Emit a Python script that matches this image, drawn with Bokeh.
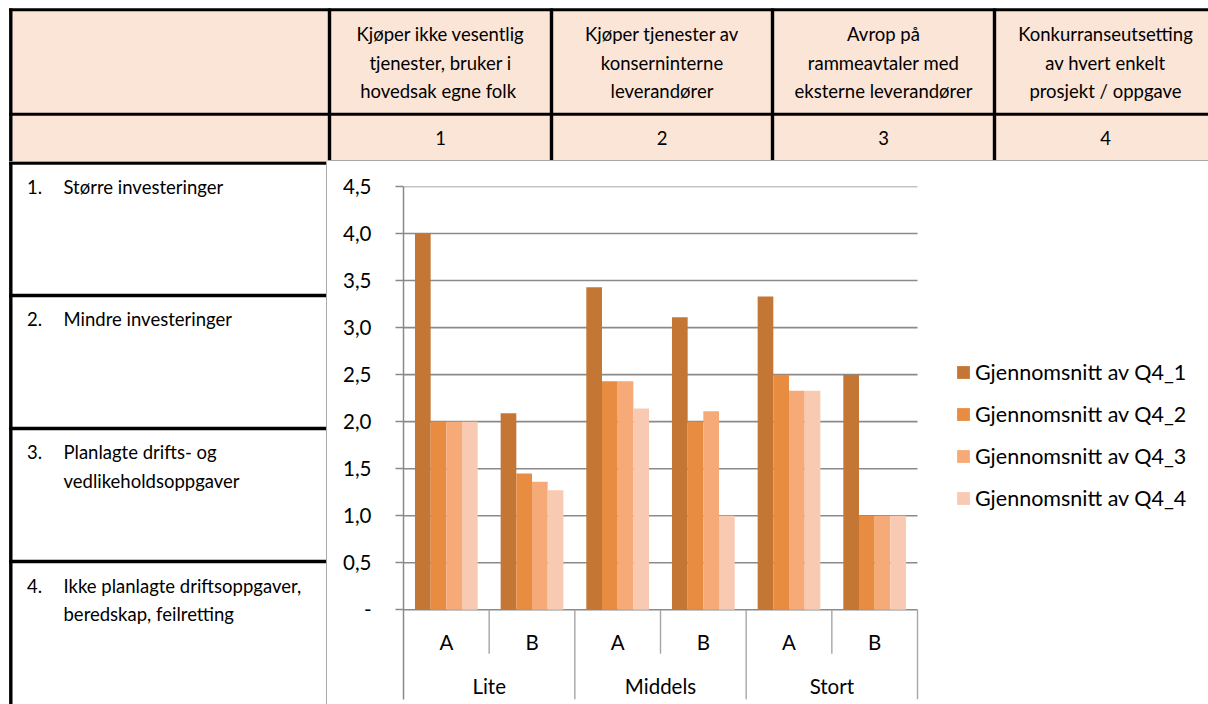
from bokeh.plotting import figure
from bokeh.models import ColumnDataSource, Range1d, FixedTicker, Legend, LegendItem
from bokeh.transform import dodge
from bokeh.layouts import column, row
from bokeh.core.properties import value
from bokeh.embed import file_html
from bokeh.resources import INLINE

# ---------------- data ----------------
SIZES = ["Lite", "Middels", "Stort"]
TYPES = ["A", "B"]
SERIES = ["Gjennomsnitt av Q4_1", "Gjennomsnitt av Q4_2",
          "Gjennomsnitt av Q4_3", "Gjennomsnitt av Q4_4"]
# one value per (size, type): Lite A, Lite B, Middels A, Middels B, Stort A, Stort B
Q4_1 = [4.00, 2.09, 3.43, 3.11, 3.33, 2.50]
Q4_2 = [2.00, 1.45, 2.43, 2.00, 2.50, 1.00]
Q4_3 = [2.00, 1.36, 2.43, 2.11, 2.33, 1.00]
Q4_4 = [2.00, 1.27, 2.14, 1.00, 2.33, 1.00]

Y_TICKS = [0.0, 0.5, 1.0, 1.5, 2.0, 2.5, 3.0, 3.5, 4.0, 4.5]
Y_TICK_LABELS = ["-", "0,5", "1,0", "1,5", "2,0", "2,5", "3,0", "3,5", "4,0", "4,5"]

HEADER_TEXT = [
    ["Kjøper ikke vesentlig", "tjenester, bruker i", "hovedsak  egne folk"],
    ["Kjøper tjenester av", "konserninterne", "leverandører"],
    ["Avrop på", "rammeavtaler med", "eksterne leverandører"],
    ["Konkurranseutsetting", "av hvert enkelt", "prosjekt / oppgave"],
]
HEADER_NUMS = ["1", "2", "3", "4"]
ROW_NUMS = ["1.", "2.", "3.", "4."]
ROW_TEXT = [
    ["Større investeringer"],
    ["Mindre investeringer"],
    ["Planlagte drifts- og", "vedlikeholdsoppgaver"],
    ["Ikke planlagte driftsoppgaver,", "beredskap, feilretting"],
]

# ---------------- style / layout ----------------
FONT = "Lato"
TABLE_FS = "18.5px"
AXIS_FS = "20.5px"
LEGEND_FS = "21.5px"
PEACH = "#FBE5D6"
GRID = "#8A8A8A"
SEP = "#A6A6A6"
BAR_COLORS = ["#C47634", "#E88C42", "#F6AA78", "#F9CAB2"]

W, H = 1208, 704
HEAD_H = 161
LEFT_W = 327
COL_X = [10.3, 329, 551, 772, 994, 1216]     # table column borders
HEAD_LINE_Y = [33.5, 62, 90.5]                # text lines in the header row
NUM_Y = 137.5
LEFT_ROWS_Y = [1.5, 134, 267, 400]            # row borders in the left column
LEFT_TEXT_Y0 = [25.5, 157.5, 290.5, 424]      # first text line of each row
LINE_STEP = 28.5


def canvas(w, h):
    f = figure(width=w, height=h, x_range=Range1d(0, w), y_range=Range1d(h, 0),
               output_backend="svg", toolbar_location=None, min_border=0,
               x_axis_location=None, y_axis_location=None,
               outline_line_color=None, background_fill_color=None,
               border_fill_color="white", frame_align=False)
    f.grid.visible = False
    return f


def txt(f, x, y, s, size, align="center"):
    f.text(x=[x], y=[y], text=[s], text_font=value(FONT), text_font_size=size,
           text_color="black", text_align=align, text_baseline="middle")


# ---- header table ----
head = canvas(W, HEAD_H)
head.quad(left=[12], right=[W], top=[10], bottom=[HEAD_H], fill_color=PEACH, line_color=None)
head.segment(x0=[8.5, 8.5], x1=[W, W], y0=[9.3, 113.7], y1=[9.3, 113.7],
             line_color="black", line_width=3)
head.segment(x0=COL_X[:5], x1=COL_X[:5], y0=[8] * 5, y1=[HEAD_H] + [159.5] * 4,
             line_color="black", line_width=3.4)
head.segment(x0=[LEFT_W], x1=[W], y0=[160.3], y1=[160.3], line_color=SEP, line_width=1.5)
for i, lines in enumerate(HEADER_TEXT):
    cx = (COL_X[i + 1] + COL_X[i + 2]) / 2
    for j, s in enumerate(lines):
        txt(head, cx, HEAD_LINE_Y[j], s, TABLE_FS)
    txt(head, cx, NUM_Y, HEADER_NUMS[i], TABLE_FS)

# ---- left column ----
LEFT_H = H - HEAD_H
left = canvas(LEFT_W, LEFT_H)
left.segment(x0=[COL_X[0]], x1=[COL_X[0]], y0=[0], y1=[LEFT_H], line_color="black", line_width=3.4)
left.segment(x0=[8.6] * 4, x1=[326] * 4, y0=LEFT_ROWS_Y, y1=LEFT_ROWS_Y,
             line_color="black", line_width=3.3)
left.segment(x0=[326.3], x1=[326.3], y0=[0], y1=[LEFT_H], line_color=SEP, line_width=1.5)
for i, lines in enumerate(ROW_TEXT):
    y0 = LEFT_TEXT_Y0[i]
    txt(left, 26.5, y0, ROW_NUMS[i], TABLE_FS, "left")
    for j, s in enumerate(lines):
        txt(left, 63, y0 + j * LINE_STEP, s, TABLE_FS, "left")

# ---- chart ----
# x is measured in category slots: slot i spans [i, i+1]; the frame continues to the
# right of the last slot to hold the legend
cats = [(s, t) for s in SIZES for t in TYPES]
n = len(cats)
slot_mid = [i + 0.5 for i in range(n)]
src = ColumnDataSource(dict(x=slot_mid, q1=Q4_1, q2=Q4_2, q3=Q4_3, q4=Q4_4))

SLOT_PX = 85.67
X_END = n + 291 / SLOT_PX
Y_LOW = -0.9535   # room under zero for the two-level category labels
chart = figure(width=W - LEFT_W, height=LEFT_H,
               x_range=Range1d(0, X_END), y_range=Range1d(Y_LOW, 4.5),
               output_backend="svg", toolbar_location=None,
               x_axis_location=None, frame_align=False,
               min_border_left=76, min_border_right=0,
               min_border_top=25, min_border_bottom=5,
               outline_line_color=None, background_fill_color="white")
chart.grid.visible = False

ax = chart.yaxis[0]
ax.ticker = FixedTicker(ticks=Y_TICKS)
ax.major_label_overrides = {t: l for t, l in zip(Y_TICKS, Y_TICK_LABELS)}
ax.axis_line_color = GRID
ax.axis_line_width = 1.5
ax.major_tick_line_color = GRID
ax.major_tick_line_width = 1.5
ax.major_tick_in = 0
ax.major_tick_out = 8
ax.minor_tick_line_color = None
ax.major_label_standoff = 24
ax.major_label_text_font = FONT
ax.major_label_text_font_size = AXIS_FS
ax.major_label_text_color = "black"

# horizontal gridlines over the category slots only
chart.segment(x0=[0] * len(Y_TICKS), x1=[n] * len(Y_TICKS), y0=Y_TICKS, y1=Y_TICKS,
              line_color=GRID, line_width=1.6)

BAR_W = 0.183
renderers = []
for k, col in enumerate(["q1", "q2", "q3", "q4"]):
    r = chart.vbar(x=dodge("x", (k - 1.5) * BAR_W), top=col, width=BAR_W, bottom=0,
                   source=src, fill_color=BAR_COLORS[k], line_color=None)
    renderers.append(r)

# category separators and two-level category labels
per = len(TYPES)
minor_x = [i for i in range(1, n, per)]
major_x = [i for i in range(per, n + 1, per)]
chart.segment(x0=minor_x, x1=minor_x, y0=[0] * len(minor_x), y1=[-0.467] * len(minor_x),
              line_color=SEP, line_width=1.4)
chart.segment(x0=major_x, x1=major_x, y0=[0] * len(major_x), y1=[Y_LOW] * len(major_x),
              line_color=SEP, line_width=1.4)
chart.text(x=slot_mid, y=[-0.337] * n, text=[t for _, t in cats], text_font=value(FONT),
           text_font_size=AXIS_FS, text_color="black", text_align="center",
           text_baseline="middle")
group_x = [per * i + per / 2 for i in range(len(SIZES))]
chart.text(x=group_x, y=[-0.805] * len(SIZES), text=SIZES, text_font=value(FONT),
           text_font_size=AXIS_FS, text_color="black", text_align="center",
           text_baseline="middle")

legend = Legend(items=[LegendItem(label=s, renderers=[r]) for s, r in zip(SERIES, renderers)],
                location=(552, 186), padding=0, margin=0, spacing=12,
                glyph_width=16, glyph_height=16, label_height=30, label_standoff=4,
                label_text_font=FONT, label_text_font_size=LEGEND_FS,
                label_text_color="black",
                border_line_color=None, background_fill_alpha=0)
chart.add_layout(legend, "center")

layout = column(head, row(left, chart, spacing=0), spacing=0)

with open("out.html", "w") as fh:
    fh.write(file_html(layout, INLINE))
